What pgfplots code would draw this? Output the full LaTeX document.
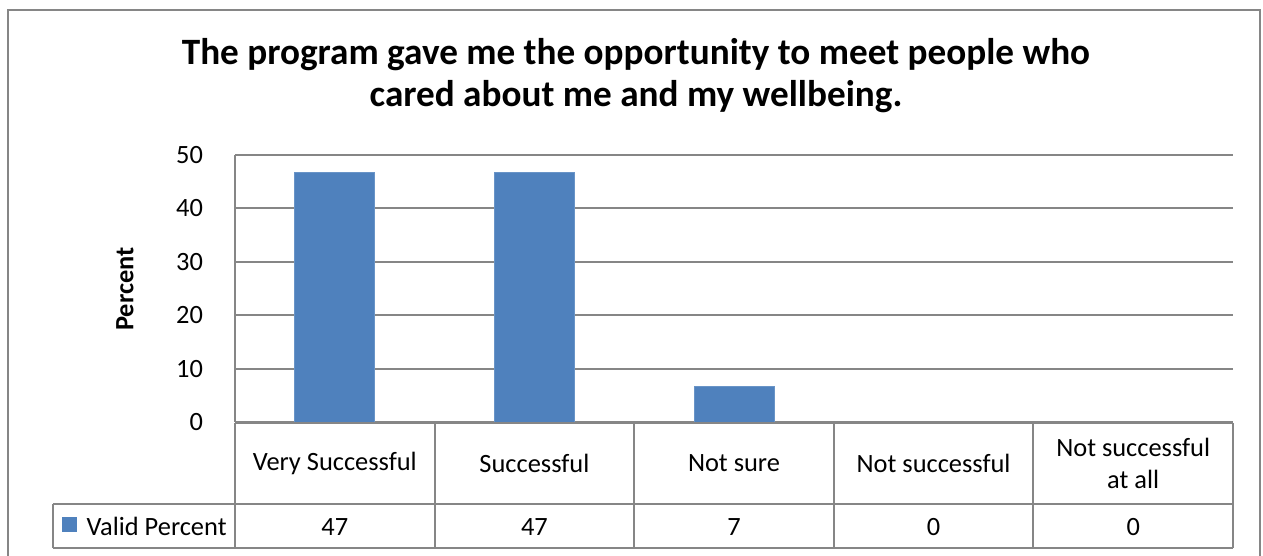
\documentclass[border=0pt]{standalone}
\usepackage{pgfplots}
\pgfplotsset{compat=1.18}
\usepackage{fontspec}
\setmainfont{Carlito}
\definecolor{barblue}{HTML}{4F81BD}
\definecolor{linegray}{HTML}{868686}
\begin{document}
\begin{tikzpicture}
\begin{scope}[x=0.5pt,y=-0.5pt]
\useasboundingbox (0,0) rectangle (1263,556);
\draw[linegray,line width=1pt] (8,570) -- (8,10) -- (1260,10) -- (1260,570);
\node[anchor=base,font=\bfseries\fontsize{18.6}{22}\selectfont] at (636,65) {The program gave me the opportunity to meet people who};
\node[anchor=base,font=\bfseries\fontsize{18.6}{22}\selectfont] at (636,107) {cared about me and my wellbeing.};
\node[rotate=90,font=\bfseries\fontsize{13.2}{16}\selectfont] at (125,289) {Percent};
\end{scope}
\begin{axis}[
  at={(117.5pt,-211pt)}, anchor=south west,
  scale only axis, width=499pt, height=133.5pt,
  xmin=-0.5, xmax=4.5, ymin=0, ymax=50,
  ytick={0,10,20,30,40,50},
  xtick=data,
  xticklabels={Very Successful,Successful,Not sure,Not successful,{Not successful\\at all}},
  xticklabel style={anchor=center, yshift=-20.5pt, align=center, font=\fontsize{13.2}{16}\selectfont},
  yticklabel style={anchor=east, xshift=-12.5pt, font=\fontsize{13.2}{16}\selectfont},
  /pgf/number format/assume math mode=true,
  major tick length=0pt, xticklabel shift=0pt, yticklabel shift=0pt,
  axis x line*=bottom, axis y line*=left,
  x axis line style={draw=none},
  axis line style={linegray, line width=1pt, -},
  ymajorgrids, grid style={linegray, line width=1pt},
  clip=false,
]
\addplot[ybar, bar width=40pt, fill=barblue, draw=barblue!85!white] coordinates {(0,46.7) (1,46.7) (2,6.7) (3,0) (4,0)};
\end{axis}
\begin{scope}[x=0.5pt,y=-0.5pt]
\draw[linegray,line width=1pt] (235,423) -- (1233,423);
\draw[linegray,line width=1pt] (53,504) -- (1233,504);
\draw[linegray,line width=1pt] (53,548) -- (1233,548);
\draw[linegray,line width=1pt] (53,504) -- (53,548);
\foreach \x in {235,434.6,634.2,833.8,1033.4,1233} {\draw[linegray,line width=1pt] (\x,423) -- (\x,548);}
\fill[barblue] (62,517) rectangle (77,532);
\node[anchor=base east,font=\fontsize{13.2}{16}\selectfont,inner sep=0pt] at (227,535) {Valid Percent};
\foreach \v [count=\i from 0] in {47,47,7,0,0} {
  \node[anchor=base,font=\fontsize{13.2}{16}\selectfont,inner sep=0pt] at (334.8+199.6*\i,535) {\v};
}
\end{scope}
\end{tikzpicture}
\end{document}
